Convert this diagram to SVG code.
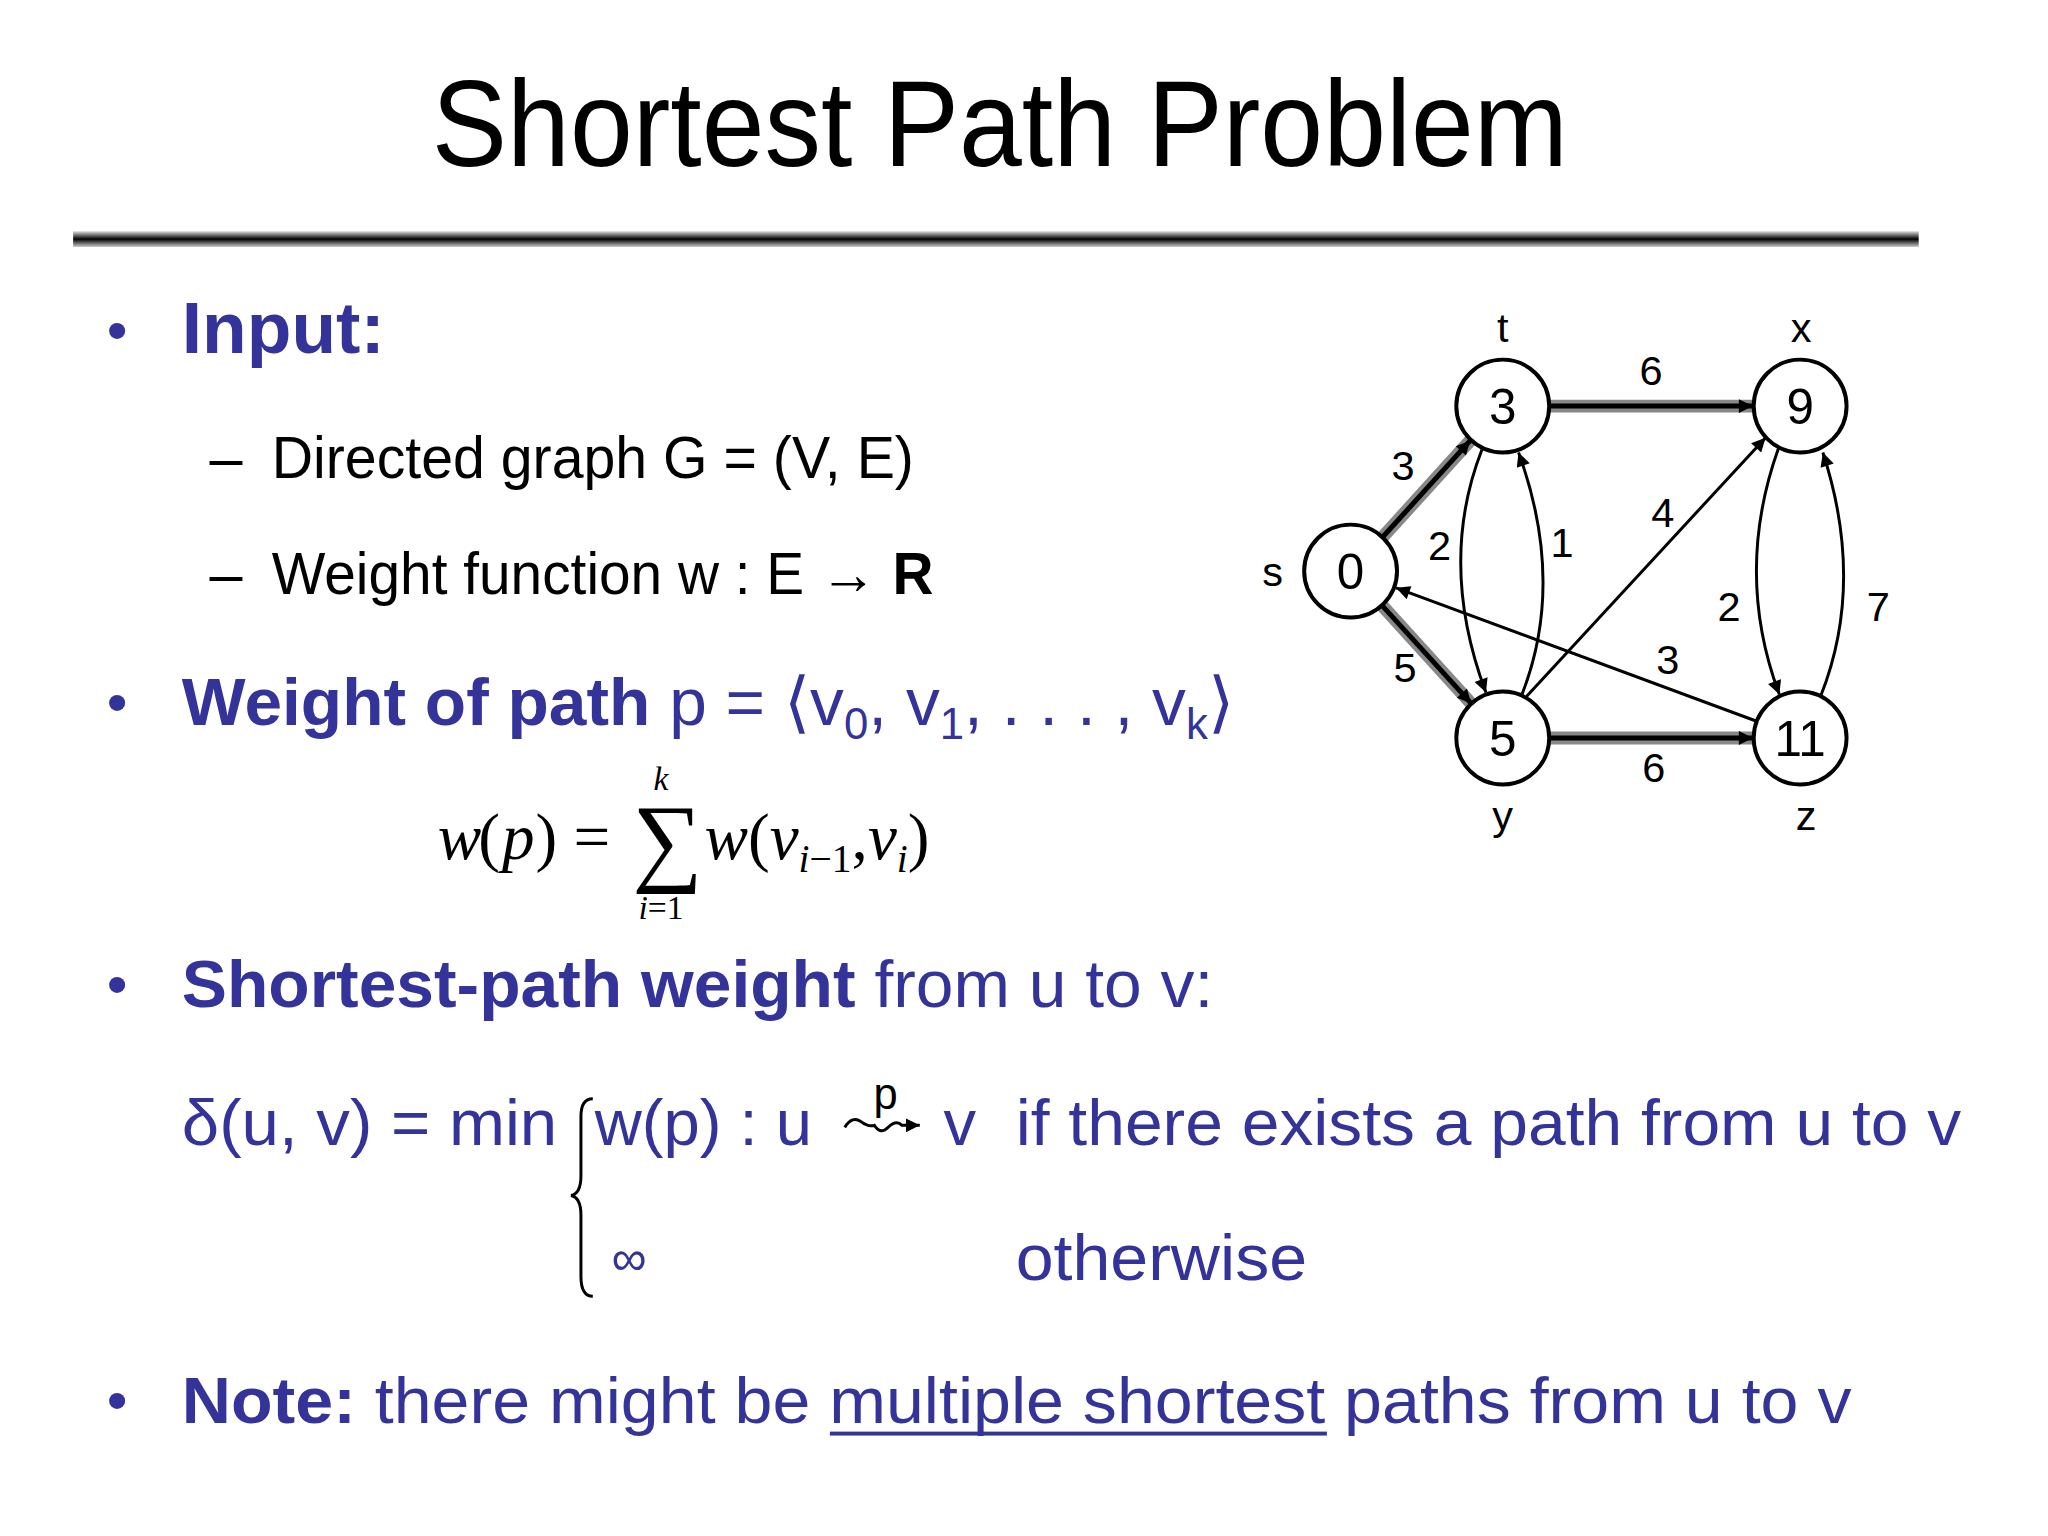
<svg xmlns="http://www.w3.org/2000/svg" width="2048" height="1536" viewBox="0 0 2048 1536">
<defs>
<linearGradient id="rule" x1="0" y1="0" x2="0" y2="1"><stop offset="0" stop-color="#ddd"/><stop offset="0.5" stop-color="#000"/><stop offset="1" stop-color="#ccc"/></linearGradient>
<marker id="ah" viewBox="0 0 10 10" refX="10" refY="5" markerWidth="16" markerHeight="14" markerUnits="userSpaceOnUse" orient="auto"><path d="M0,0 L10,5 L0,10 z" fill="#000"/></marker>
</defs>
<style>
.b{font-family:"Liberation Sans",Arial,sans-serif;fill:#333399}
.k{font-family:"Liberation Sans",Arial,sans-serif;fill:#000}
.m{font-family:"Liberation Serif","Times New Roman",serif;fill:#000}
.node circle{fill:#fff;stroke:#000;stroke-width:4}
.node text{font-family:"Liberation Sans",Arial,sans-serif;font-size:50px;text-anchor:middle;fill:#000}
.lbl{font-family:"Liberation Sans",Arial,sans-serif;font-size:42px;text-anchor:middle;fill:#000}
.hl{stroke:#888;stroke-width:13;fill:none}
.e{stroke:#000;stroke-width:3;fill:none;marker-end:url(#ah)}
.e2{stroke:#000;stroke-width:5;fill:none;marker-end:url(#ah)}
</style>
<rect width="2048" height="1536" fill="#fff"/>
<g transform="scale(0.988)">
<text class="k" x="1012" y="168" font-size="124" text-anchor="middle" textLength="1150" lengthAdjust="spacingAndGlyphs">Shortest Path Problem</text>
<rect x="74" y="234" width="1868" height="16" fill="url(#rule)"/>

<g font-size="60">
<text class="b" x="108" y="355" font-size="60">•</text>
<text class="b" x="184" y="357" font-size="74" font-weight="bold">Input:</text>
<text class="k" x="212" y="484">–</text>
<text class="k" x="275" y="484" textLength="650" lengthAdjust="spacingAndGlyphs">Directed graph G = (V, E)</text>
<text class="k" x="212" y="601">–</text>
<text class="k" x="275" y="601" textLength="670" lengthAdjust="spacingAndGlyphs">Weight function w : E → <tspan font-weight="bold">R</tspan></text>

<text class="b" x="108" y="732">•</text>
<text class="b" x="184" y="734" font-size="68" textLength="1065" lengthAdjust="spacingAndGlyphs"><tspan font-weight="bold">Weight of path</tspan> p = ⟨v<tspan font-size="44" dy="14">0</tspan><tspan dy="-14">, v</tspan><tspan font-size="44" dy="14">1</tspan><tspan dy="-14">, . . . , v</tspan><tspan font-size="44" dy="14">k</tspan><tspan dy="-14">⟩</tspan></text>

<text class="m" x="443" y="869" font-size="66" font-style="italic">w</text>
<text class="m" x="484" y="869" font-size="66">(</text>
<text class="m" x="508" y="869" font-size="66" font-style="italic">p</text>
<text class="m" x="542" y="869" font-size="66">) =</text>
<text class="m" x="640" y="884" font-size="100">∑</text>
<text class="m" x="669" y="800" font-size="34" font-style="italic" text-anchor="middle">k</text>
<text class="m" x="669" y="930" font-size="34" text-anchor="middle"><tspan font-style="italic">i</tspan>=1</text>
<text class="m" x="713" y="869" font-size="66"><tspan font-style="italic">w</tspan>(<tspan font-style="italic">v</tspan><tspan font-size="40" dy="14"><tspan font-style="italic">i</tspan>−1</tspan><tspan dy="-14">,</tspan><tspan font-style="italic">v</tspan><tspan font-size="40" dy="14" font-style="italic">i</tspan><tspan dy="-14">)</tspan></text>

<text class="b" x="108" y="1017">•</text>
<text class="b" x="184" y="1019" font-size="68" textLength="1044" lengthAdjust="spacingAndGlyphs"><tspan font-weight="bold">Shortest-path weight</tspan> from u to v:</text>

<text class="b" x="184" y="1159" font-size="66" textLength="380" lengthAdjust="spacingAndGlyphs">δ(u, v) = min</text>
<path d="M600,1112 Q588,1112 588,1130 L588,1190 Q588,1208 578,1210 Q588,1212 588,1230 L588,1292 Q588,1312 600,1312" fill="none" stroke="#000" stroke-width="3"/>
<text class="b" x="602" y="1159" font-size="66">w(p) : u</text>
<path d="M855,1141 q8,-12 16,-6 t14,4 q6,10 14,2 t14,-2 l18,0" fill="none" stroke="#000" stroke-width="3" marker-end="url(#ah)"/>
<text class="k" x="884" y="1122" font-size="44">p</text>
<text class="b" x="955" y="1159" font-size="66">v</text>
<text class="b" x="1028" y="1159" font-size="66" textLength="957" lengthAdjust="spacingAndGlyphs">if there exists a path from u to v</text>
<text class="b" x="619" y="1290" font-size="50">∞</text>
<text class="b" x="1028" y="1296" font-size="66" textLength="295" lengthAdjust="spacingAndGlyphs">otherwise</text>

<text class="b" x="108" y="1438">•</text>
<text class="b" x="184" y="1440" font-size="66" textLength="1690" lengthAdjust="spacingAndGlyphs"><tspan font-weight="bold">Note:</tspan> there might be multiple shortest paths from u to v</text>
<rect x="840" y="1449" width="503" height="4" fill="#333399"/>
</g>

<g id="connectors">
<line class="hl" x1="1400" y1="543" x2="1488" y2="446"/>
<line class="e2" x1="1400" y1="543" x2="1488" y2="446"/>
<line class="hl" x1="1399" y1="613" x2="1489" y2="712"/>
<line class="e2" x1="1399" y1="613" x2="1489" y2="712"/>
<line class="hl" x1="1569" y1="411" x2="1774" y2="411"/>
<line class="e2" x1="1569" y1="411" x2="1774" y2="411"/>
<line class="hl" x1="1569" y1="747" x2="1774" y2="747"/>
<line class="e2" x1="1569" y1="747" x2="1774" y2="747"/>
<path class="e" d="M1500,455 Q1455,570 1504,701"/>
<path class="e" d="M1540,704 Q1585,590 1537,458"/>
<line class="e" x1="1545" y1="705" x2="1787" y2="443"/>
<line class="e" x1="1778" y1="730" x2="1413" y2="595"/>
<path class="e" d="M1800,454 Q1755,580 1801,703"/>
<path class="e" d="M1843,704 Q1888,590 1845,458"/>
</g>

<g id="s" class="node"><circle cx="1367" cy="578" r="47"/><text x="1367" y="596">0</text></g>
<g id="t" class="node"><circle cx="1521" cy="411" r="47"/><text x="1521" y="429">3</text></g>
<g id="x" class="node"><circle cx="1822" cy="411" r="47"/><text x="1822" y="429">9</text></g>
<g id="y" class="node"><circle cx="1521" cy="747" r="47"/><text x="1521" y="765">5</text></g>
<g id="z" class="node"><circle cx="1822" cy="747" r="47"/><text x="1822" y="765">11</text></g>

<g id="labels">
<text class="lbl" x="1521" y="346">t</text>
<text class="lbl" x="1823" y="346">x</text>
<text class="lbl" x="1288" y="593">s</text>
<text class="lbl" x="1521" y="840">y</text>
<text class="lbl" x="1828" y="840">z</text>
<text class="lbl" x="1671" y="390">6</text>
<text class="lbl" x="1420" y="486">3</text>
<text class="lbl" x="1457" y="567">2</text>
<text class="lbl" x="1581" y="564">1</text>
<text class="lbl" x="1683" y="533">4</text>
<text class="lbl" x="1750" y="629">2</text>
<text class="lbl" x="1901" y="629">7</text>
<text class="lbl" x="1688" y="682">3</text>
<text class="lbl" x="1422" y="690">5</text>
<text class="lbl" x="1674" y="792">6</text>
</g>
</g>
</svg>
